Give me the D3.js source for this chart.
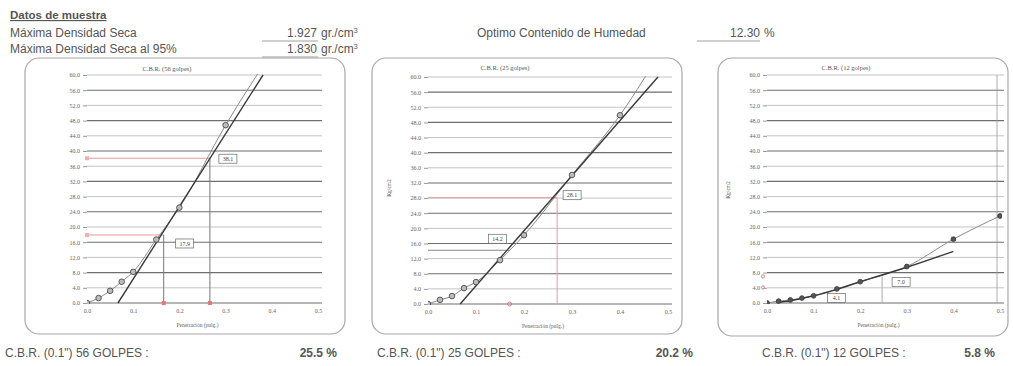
<!DOCTYPE html>
<html><head><meta charset="utf-8">
<script src="https://cdn.jsdelivr.net/npm/d3@7"></script>
<style>body{margin:0;background:#fff}svg{display:block}</style>
</head><body>
<svg id="c" width="1013" height="366"></svg>
<script>
// Penetración (pulg.) de cada lectura
const penetration = [0, 0.025, 0.05, 0.075, 0.1, 0.15, 0.2, 0.3, 0.4, 0.5];
// Esfuerzo (kg/cm2) medido en cada ensayo
const stress56 = [0, 1.3, 3.2, 5.6, 8.2, 16.7, 25.1, 46.8, 66.0];
const stress25 = [0, 1.1, 2.1, 4.2, 5.8, 11.6, 18.2, 34.1, 49.9, 70.0];
const stress12 = [0, 0.5, 0.8, 1.3, 1.9, 3.7, 5.6, 9.6, 16.8, 22.9];
// Recta / curva de corrección (penetración, esfuerzo)
const correction56 = [[0.067, 0], [0.381, 60]];
const correction25 = [[0.067, 0], [0.479, 60]];
const correction12 = [[0.02, 0.1], [0.05, 0.6], [0.1, 1.9], [0.15, 3.6], [0.2, 5.6], [0.3, 9.4], [0.4, 13.6]];
// Lecturas corregidas a 0.1" y 0.2" (penetración corregida, esfuerzo)
const read56 = [[0.166, 17.9], [0.266, 38.1]];
const read25 = [[0.170, 14.2], [0.269, 28.1]];
const read12 = [[0.147, 4.1], [0.247, 7.0]];
const golpes = [56, 25, 12];
const cbr01 = [25.5, 20.2, 5.8];
const yTicks = d3.range(0, 61, 4);
const xTicks = [0, 0.1, 0.2, 0.3, 0.4, 0.5];
// Datos de muestra
const sampleLabels = ["Máxima Densidad Seca", "Máxima Densidad Seca  al 95%"];
const sampleValues = ["1.927", "1.830"];
const humidityLabel = "Optimo Contenido de Humedad";
const humidityValue = "12.30";

const svg = d3.select("#c");
const ink = "#555";
const sans = "'Liberation Sans', Arial, sans-serif";
const serif = "'Liberation Serif', 'Times New Roman', serif";

// ---------- encabezado ----------
const head = svg.append("g").attr("font-family", sans).attr("fill", ink);
head.append("text").attr("x", 10).attr("y", 19).attr("font-size", 11.5)
  .attr("font-weight", "bold").attr("text-decoration", "underline").text("Datos de muestra");
sampleLabels.forEach((t, i) => {
  const y = 37 + i * 16;
  head.append("text").attr("x", 10).attr("y", y).attr("font-size", 12).text(t);
  head.append("text").attr("x", 317).attr("y", y).attr("font-size", 12)
    .attr("text-anchor", "end").text(sampleValues[i]);
  const u = head.append("text").attr("x", 321).attr("y", y).attr("font-size", 12);
  u.append("tspan").text("gr./cm");
  u.append("tspan").attr("dy", -4).attr("font-size", 7).text("3");
  head.append("line").attr("x1", 262).attr("x2", 318).attr("y1", y + 4).attr("y2", y + 4)
    .attr("stroke", "#888").attr("stroke-width", 0.8);
});
head.append("text").attr("x", 477).attr("y", 37).attr("font-size", 12).text(humidityLabel);
head.append("text").attr("x", 760).attr("y", 37).attr("font-size", 12)
  .attr("text-anchor", "end").text(humidityValue);
head.append("text").attr("x", 764).attr("y", 37).attr("font-size", 12).text("%");
head.append("line").attr("x1", 697).attr("x2", 760).attr("y1", 41).attr("y2", 41)
  .attr("stroke", "#888").attr("stroke-width", 0.8);

// ---------- paneles ----------
const panels = [
  { frame: [25, 58, 320, 276], plot: [87, 318, 303, 75], title: [167, 71], ytitle: null,
    stress: stress56, corr: correction56, corrCurve: false, read: read56,
    box: [[12, 4], [9, -4]], vline: ["#777", "#777"], hline: ["#e59a9a", "#e59a9a"], base: "square" },
  { frame: [372, 58, 310, 276], plot: [428, 668, 304, 77], title: [505, 70], ytitle: [391, 188],
    stress: stress25, corr: correction25, corrCurve: false, read: read25,
    box: [[-21, -16], [6, -7]], vline: [null, "#e59a9a"], hline: ["#888", "#e59a9a"], base: "circle" },
  { frame: [718, 58, 290, 278], plot: [767, 1000, 303, 75], title: [846, 70], ytitle: [730, 190],
    stress: stress12, corr: correction12, corrCurve: true, read: read12,
    box: [[-8, 6], [10, 1]], vline: [null, "#aaa"], hline: [null, null], base: "ycircle" }
];

panels.forEach((p, k) => {
  const g = svg.append("g");
  const [fx, fy, fw, fh] = p.frame;
  g.append("rect").attr("x", fx).attr("y", fy).attr("width", fw).attr("height", fh)
    .attr("rx", 14).attr("fill", "none").attr("stroke", "#a8a8a8").attr("stroke-width", 1.2);

  const x = d3.scaleLinear().domain([0, 0.5]).range([p.plot[0], p.plot[1]]);
  const y = d3.scaleLinear().domain([0, 60]).range([p.plot[2], p.plot[3]]);
  const clipId = "clip" + k;
  g.append("clipPath").attr("id", clipId).append("rect")
    .attr("x", p.plot[0]).attr("y", p.plot[3] - 1)
    .attr("width", p.plot[1] - p.plot[0] + 2).attr("height", p.plot[2] - p.plot[3] + 2);

  // rejilla horizontal
  g.append("g").selectAll("line").data(yTicks).join("line")
    .attr("x1", p.plot[0]).attr("x2", p.plot[1] + 4)
    .attr("y1", d => y(d)).attr("y2", d => y(d))
    .attr("stroke", (d, i) => i % 2 ? "#b4b4b4" : "#6e6e6e")
    .attr("stroke-width", (d, i) => i % 2 ? 0.8 : 1.1);
  if (k === 2) {
    g.append("line").attr("x1", p.plot[1] - 3).attr("x2", p.plot[1] - 3)
      .attr("y1", y(60)).attr("y2", y(0)).attr("stroke", "#999").attr("stroke-width", 0.8);
  }

  // ejes
  const ya = d3.axisLeft(y).tickValues(yTicks).tickSize(4).tickFormat(d3.format(".1f"));
  const xa = d3.axisBottom(x).tickValues(xTicks).tickSize(0).tickPadding(6).tickFormat(d3.format(".1f"));
  const gy = g.append("g").attr("transform", `translate(${p.plot[0]},0)`).call(ya);
  const gx = g.append("g").attr("transform", `translate(0,${p.plot[2]})`).call(xa);
  [gy, gx].forEach(a => {
    a.select(".domain").remove();
    a.selectAll("text").attr("font-family", serif).attr("font-size", 6).attr("fill", "#666");
    a.selectAll("line").attr("stroke", "#999");
  });

  g.append("text").attr("x", p.title[0]).attr("y", p.title[1]).attr("text-anchor", "middle")
    .attr("font-family", serif).attr("font-size", 6.5).attr("fill", "#555")
    .text(`C.B.R. (${golpes[k]} golpes)`);
  g.append("text").attr("x", (p.plot[0] + p.plot[1]) / 2 - 5).attr("y", p.plot[2] + 24)
    .attr("text-anchor", "middle").attr("font-family", serif).attr("font-size", 5.5)
    .attr("fill", "#666").text("Penetración (pulg.)");
  if (p.ytitle) {
    g.append("text").attr("transform", `translate(${p.ytitle[0]},${p.ytitle[1]}) rotate(-90)`)
      .attr("text-anchor", "middle").attr("font-family", serif).attr("font-size", 5.5)
      .attr("fill", "#555").text("Kg/cm2");
  }

  // lecturas corregidas
  p.read.forEach((r, j) => {
    if (p.hline[j]) g.append("line").attr("x1", x(0)).attr("x2", x(r[0]))
      .attr("y1", y(r[1])).attr("y2", y(r[1])).attr("stroke", p.hline[j]).attr("stroke-width", 1);
    if (p.vline[j]) g.append("line").attr("x1", x(r[0])).attr("x2", x(r[0]))
      .attr("y1", y(0)).attr("y2", y(r[1])).attr("stroke", p.vline[j]).attr("stroke-width", 1);
    if (p.base === "square") {
      g.append("rect").attr("x", x(r[0]) - 2).attr("y", y(0) - 2).attr("width", 4).attr("height", 4)
        .attr("fill", "#e07a7a");
      g.append("rect").attr("x", x(0) - 2).attr("y", y(r[1]) - 2).attr("width", 4).attr("height", 4)
        .attr("fill", "#f0b0b0");
    } else if (p.base === "circle" && j === 0) {
      g.append("circle").attr("cx", x(r[0])).attr("cy", y(0)).attr("r", 2)
        .attr("fill", "none").attr("stroke", "#e07a7a");
    } else if (p.base === "ycircle") {
      g.append("circle").attr("cx", x(0) - 4).attr("cy", y(r[1])).attr("r", 1.6)
        .attr("fill", "none").attr("stroke", "#c88");
    }
  });

  // curva de ensayo y corrección
  const pts = p.stress.map((v, i) => [penetration[i], v]);
  const body = g.append("g").attr("clip-path", `url(#${clipId})`);
  body.append("path").datum(pts)
    .attr("d", d3.line().x(d => x(d[0])).y(d => y(d[1])).curve(d3.curveMonotoneX))
    .attr("fill", "none").attr("stroke", "#8a8a8a").attr("stroke-width", 1);
  body.append("path").datum(p.corr)
    .attr("d", d3.line().x(d => x(d[0])).y(d => y(d[1])).curve(p.corrCurve ? d3.curveMonotoneX : d3.curveLinear))
    .attr("fill", "none").attr("stroke", "#3a3a3a").attr("stroke-width", 1.4);
  body.selectAll("circle").data(pts.filter(d => d[1] <= 60)).join("circle")
    .attr("cx", d => x(d[0])).attr("cy", d => y(d[1])).attr("r", k === 2 ? 2.4 : 2.8)
    .attr("fill", k === 2 ? "#555" : "#bdbdbd").attr("stroke", "#3a3a3a").attr("stroke-width", 0.8);

  // etiquetas de valor
  p.read.forEach((r, j) => {
    const bx = x(r[0]) + p.box[j][0], by = y(r[1]) + p.box[j][1];
    g.append("rect").attr("x", bx).attr("y", by).attr("width", 18).attr("height", 9)
      .attr("fill", "#fff").attr("stroke", "#666").attr("stroke-width", 0.7);
    g.append("text").attr("x", bx + 9).attr("y", by + 6.8).attr("text-anchor", "middle")
      .attr("font-family", serif).attr("font-size", 6).attr("fill", "#444")
      .text(d3.format(".1f")(r[1]));
  });
});

// ---------- pie ----------
const foot = svg.append("g").attr("font-family", sans).attr("font-size", 12).attr("fill", ink);
const footX = [[5, 337], [377, 693], [762, 995]];
golpes.forEach((n, i) => {
  foot.append("text").attr("x", footX[i][0]).attr("y", 357).text(`C.B.R. (0.1") ${n} GOLPES :`);
  foot.append("text").attr("x", footX[i][1]).attr("y", 357).attr("text-anchor", "end")
    .attr("font-weight", "bold").text(`${cbr01[i]} %`);
});
</script>
</body></html>
